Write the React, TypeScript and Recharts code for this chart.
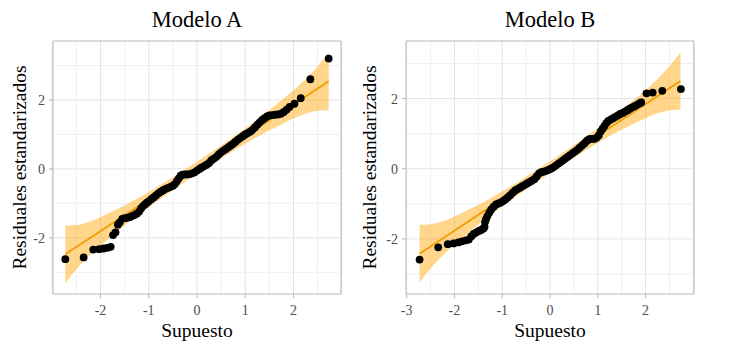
import React from "react";
import {
  ComposedChart,
  Area,
  Line,
  Scatter,
  XAxis,
  YAxis,
  CartesianGrid,
  ReferenceArea,
  Label,
} from "recharts";

const FONT = "'Liberation Serif', 'Times New Roman', serif";
const BAND = "#ffa500";
const LINE = "#f29d00";

// Modelo A: theoretical quantile vs standardized residual
const qA = [
  -2.73, -2.35, -2.15, -2.03, -1.94, -1.86, -1.79, -1.74, -1.69, -1.64, -1.6, -1.55, -1.5, -1.45,
  -1.4, -1.35, -1.3, -1.25, -1.2, -1.16, -1.12, -1.08, -1.04, -1.0, -0.95, -0.9, -0.85, -0.8, -0.75,
  -0.7, -0.65, -0.6, -0.55, -0.5, -0.46, -0.42, -0.38, -0.34, -0.3, -0.25, -0.2, -0.15, -0.1, -0.05,
  0.0, 0.05, 0.1, 0.15, 0.2, 0.25, 0.3, 0.35, 0.4, 0.45, 0.5, 0.55, 0.6, 0.65, 0.7, 0.75, 0.8, 0.85,
  0.9, 0.95, 1.0, 1.05, 1.1, 1.15, 1.2, 1.25, 1.3, 1.35, 1.4, 1.45, 1.5, 1.56, 1.62, 1.68, 1.74, 1.8,
  1.86, 1.92, 2.02, 2.15, 2.35, 2.73,
];
const rA = [
  -2.62, -2.57, -2.34, -2.33, -2.31, -2.29, -2.26, -1.92, -1.84, -1.62, -1.55, -1.45, -1.43, -1.42,
  -1.4, -1.37, -1.34, -1.3, -1.24, -1.15, -1.08, -1.03, -0.98, -0.94, -0.88, -0.83, -0.77, -0.71,
  -0.66, -0.62, -0.58, -0.55, -0.52, -0.49, -0.44, -0.36, -0.28, -0.2, -0.17, -0.16, -0.16, -0.15,
  -0.13, -0.1, -0.05, 0.0, 0.04, 0.08, 0.12, 0.17, 0.25, 0.3, 0.35, 0.42, 0.48, 0.53, 0.58, 0.63,
  0.68, 0.73, 0.79, 0.85, 0.9, 0.95, 1.0, 1.04, 1.08, 1.13, 1.2, 1.28, 1.35, 1.42, 1.47, 1.52, 1.55,
  1.56, 1.57, 1.58, 1.6, 1.65, 1.72, 1.8, 1.89, 2.05, 2.6, 3.2,
];

// Modelo B
const qB = [
  -2.73, -2.34, -2.14, -2.02, -1.92, -1.84, -1.76, -1.7, -1.65, -1.6, -1.55, -1.5, -1.45, -1.4,
  -1.37, -1.36, -1.34, -1.31, -1.27, -1.23, -1.18, -1.13, -1.08, -1.03, -0.98, -0.93, -0.88, -0.83,
  -0.78, -0.73, -0.68, -0.63, -0.58, -0.53, -0.48, -0.43, -0.38, -0.33, -0.28, -0.23, -0.18, -0.13,
  -0.08, -0.03, 0.02, 0.07, 0.12, 0.17, 0.22, 0.27, 0.32, 0.37, 0.42, 0.47, 0.52, 0.57, 0.62, 0.67,
  0.72, 0.77, 0.82, 0.87, 0.92, 0.97, 1.02, 1.06, 1.1, 1.14, 1.18, 1.22, 1.27, 1.32, 1.37, 1.42,
  1.47, 1.52, 1.57, 1.62, 1.67, 1.72, 1.77, 1.82, 1.87, 1.91, 2.02, 2.15, 2.35, 2.74,
];
const rB = [
  -2.59, -2.24, -2.15, -2.13, -2.1, -2.07, -2.04, -2.02, -1.93, -1.86, -1.82, -1.78, -1.75, -1.71,
  -1.66, -1.52, -1.44, -1.35, -1.25, -1.16, -1.08, -1.02, -0.99, -0.96, -0.92, -0.87, -0.81, -0.75,
  -0.68, -0.62, -0.58, -0.54, -0.5, -0.46, -0.42, -0.38, -0.34, -0.3, -0.22, -0.13, -0.1, -0.08,
  -0.06, -0.03, 0.0, 0.04, 0.09, 0.14, 0.19, 0.24, 0.29, 0.34, 0.39, 0.44, 0.49, 0.54, 0.6, 0.66,
  0.72, 0.79, 0.84, 0.85, 0.85, 0.88, 0.95, 1.06, 1.14, 1.22, 1.3, 1.36, 1.4, 1.44, 1.48, 1.52,
  1.56, 1.59, 1.63, 1.67, 1.71, 1.75, 1.78, 1.82, 1.86, 1.89, 2.15, 2.17, 2.22, 2.27,
];

// confidence band
const bandX = [
  -2.73, -2.5, -2.25, -2.0, -1.75, -1.5, -1.25, -1.0, -0.5, 0, 0.5, 1.0, 1.25, 1.5, 1.75, 2.0, 2.25,
  2.5, 2.73,
];
const loA = [
  -3.32, -2.91, -2.54, -2.22, -1.93, -1.64, -1.37, -1.11, -0.62, -0.15, 0.3, 0.73, 0.93, 1.12, 1.29,
  1.46, 1.6, 1.69, 1.7,
];
const hiA = [
  -1.64, -1.63, -1.54, -1.4, -1.23, -1.06, -0.87, -0.67, -0.24, 0.21, 0.68, 1.17, 1.43, 1.7, 1.99,
  2.28, 2.6, 2.97, 3.38,
];
const loB = [
  -3.24, -2.84, -2.48, -2.16, -1.88, -1.59, -1.33, -1.07, -0.59, -0.13, 0.31, 0.73, 0.93, 1.11, 1.28,
  1.44, 1.58, 1.66, 1.69,
];
const hiB = [
  -1.6, -1.58, -1.5, -1.36, -1.2, -1.03, -0.85, -0.65, -0.23, 0.21, 0.67, 1.15, 1.41, 1.67, 1.96,
  2.24, 2.56, 2.92, 3.31,
];

// reference line end points
const fitX = [-2.73, 2.73];
const fitA = [-2.48, 2.54];
const fitB = [-2.42, 2.5];

const dot = (p: any) => <circle cx={p.cx} cy={p.cy} r={3.9} fill="#000" />;

const XTick = (p: any) => (
  <text x={p.x} y={p.y} dy={10} textAnchor="middle" fill="#4d4d4d" fontSize={14} style={{ fontFamily: FONT }}>
    {p.payload.value}
  </text>
);
const YTick = (p: any) => (
  <text x={p.x} y={p.y} dy={5} textAnchor="end" fill="#4d4d4d" fontSize={14} style={{ fontFamily: FONT }}>
    {p.payload.value}
  </text>
);

const titleStyle = { fill: "#000", fontSize: 19.5, fontFamily: FONT, textAnchor: "middle" as const };

function QQPanel(props: {
  title: string;
  left: number;
  width: number;
  yAxisWidth: number;
  right: number;
  yLabelOffset: number;
  q: number[];
  r: number[];
  lo: number[];
  hi: number[];
  fit: number[];
  xDomain: [number, number];
  yDomain: [number, number];
  xTicks: number[];
  xMinor: number[];
}) {
  const { title, left, width, yAxisWidth, right, q, r, lo, hi, fit } = props;
  const pts = q.map((x, i) => ({ x, y: r[i] }));
  const band = bandX.map((x, i) => ({ x, band: [lo[i], hi[i]] }));
  const line = fitX.map((x, i) => ({ x, y: fit[i] }));
  const plotCenter = yAxisWidth + (width - yAxisWidth - right) / 2;

  return (
    <div style={{ position: "absolute", left, top: 0, width, height: 360 }}>
      <ComposedChart
        width={width}
        height={360}
        data={band}
        margin={{ top: 41, right, bottom: 16, left: 0 }}
      >
        <CartesianGrid
          stroke="#f0f0f0"
          horizontalValues={[-3, -1, 1, 3]}
          verticalValues={props.xMinor}
        />
        <CartesianGrid stroke="#e4e4e4" horizontalValues={[-2, 0, 2]} verticalValues={[-3, -2, -1, 0, 1, 2, 3]} />
        <XAxis
          type="number"
          dataKey="x"
          domain={props.xDomain}
          ticks={props.xTicks}
          interval={0}
          allowDataOverflow
          height={50}
          tickSize={4}
          tickMargin={7}
          axisLine={false}
          tickLine={{ stroke: "#b3b3b3" }}
          tick={XTick}
        >
          <Label value="Supuesto" position="insideBottom" offset={7} style={titleStyle} />
        </XAxis>
        <YAxis
          type="number"
          domain={props.yDomain}
          ticks={[-2, 0, 2]}
          interval={0}
          allowDataOverflow
          width={yAxisWidth}
          tickSize={4}
          tickMargin={4}
          axisLine={false}
          tickLine={{ stroke: "#b3b3b3" }}
          tick={YTick}
        >
          <Label
            value="Residuales estandarizados"
            angle={-90}
            position="insideLeft"
            offset={props.yLabelOffset}
            style={titleStyle}
          />
        </YAxis>
        <Area
          dataKey="band"
          type="monotone"
          fill={BAND}
          fillOpacity={0.45}
          stroke="none"
          isAnimationActive={false}
        />
        <Line
          data={line}
          dataKey="y"
          stroke={LINE}
          strokeWidth={1.8}
          dot={false}
          isAnimationActive={false}
        />
        <Scatter data={pts} dataKey="y" shape={dot} isAnimationActive={false} />
        <ReferenceArea
          x1={props.xDomain[0]}
          x2={props.xDomain[1]}
          y1={props.yDomain[0]}
          y2={props.yDomain[1]}
          fill="none"
          stroke="#b8b8b8"
          strokeWidth={1}
        />
      </ComposedChart>
      <svg width={width} height={40} style={{ position: "absolute", left: 0, top: 0 }}>
        <text x={plotCenter} y={27} textAnchor="middle" fontFamily={FONT} fontSize={22.5} fill="#000">
          {title}
        </text>
      </svg>
    </div>
  );
}

export default function App() {
  return (
    <div style={{ position: "absolute", left: 0, top: 0, width: 729, height: 360, background: "#fff" }}>
      <QQPanel
        title="Modelo A"
        left={0}
        width={365}
        yAxisWidth={53}
        right={24}
        yLabelOffset={18.6}
        q={qA}
        r={rA}
        lo={loA}
        hi={hiA}
        fit={fitA}
        xDomain={[-2.985, 2.985]}
        yDomain={[-3.63, 3.71]}
        xTicks={[-2, -1, 0, 1, 2]}
        xMinor={[-2.5, -1.5, -0.5, 0.5, 1.5, 2.5]}
      />
      <QQPanel
        title="Modelo B"
        left={355}
        width={374}
        yAxisWidth={51}
        right={35}
        yLabelOffset={14.1}
        q={qB}
        r={rB}
        lo={loB}
        hi={hiB}
        fit={fitB}
        xDomain={[-3.014, 3.014]}
        yDomain={[-3.57, 3.64]}
        xTicks={[-3, -2, -1, 0, 1, 2]}
        xMinor={[-2.5, -1.5, -0.5, 0.5, 1.5, 2.5]}
      />
    </div>
  );
}
